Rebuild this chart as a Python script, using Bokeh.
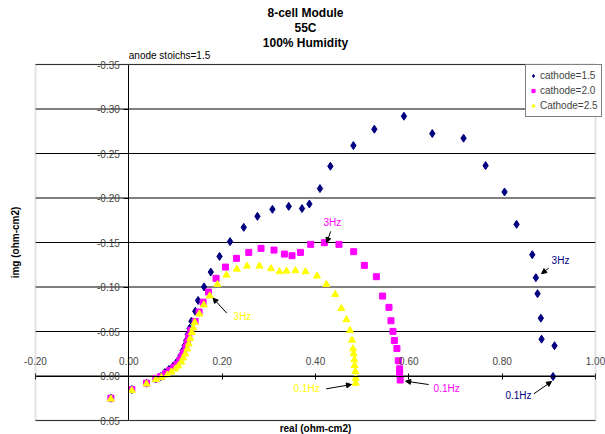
import math
from bokeh.plotting import figure
from bokeh.models import (Range1d, LinearAxis, FixedTicker, CustomJSTickFormatter, Label,
                          Arrow, NormalHead, Legend, LegendItem, BoxAnnotation)
from bokeh.embed import file_html
from bokeh.resources import INLINE

FONT = "Liberation Sans"

# ---- data (real, img) in ohm-cm2 ----
real_c15 = [-0.0385, 0.0064, 0.0379, 0.0578, 0.0685, 0.0771, 0.0857, 0.0942, 0.1006, 0.1070,
            0.1113, 0.1156, 0.1199, 0.1231, 0.1263, 0.1300, 0.1343, 0.1424, 0.1484, 0.1612,
            0.1756, 0.1944, 0.2169, 0.2463, 0.2756, 0.3077, 0.3426, 0.3711, 0.3869, 0.4096,
            0.4319, 0.4812, 0.5261, 0.5895, 0.6503, 0.7173, 0.7645, 0.8051, 0.8308, 0.8645,
            0.8722, 0.8758, 0.8829, 0.8844, 0.9122, 0.9090]
img_c15 = [0.0250, 0.0152, 0.0081, 0.0031, 0.0006, -0.0039, -0.0073, -0.0107, -0.0141, -0.0186,
           -0.0231, -0.0287, -0.0343, -0.0399, -0.0467, -0.0534, -0.0616, -0.0727, -0.0849, -0.1001,
           -0.1168, -0.1344, -0.1510, -0.1670, -0.1794, -0.1873, -0.1906, -0.1881, -0.1933, -0.2106,
           -0.2357, -0.2589, -0.2773, -0.2919, -0.2724, -0.2672, -0.2364, -0.2068, -0.1704, -0.1363,
           -0.1105, -0.0925, -0.0650, -0.0414, -0.0340, 0.0006]

real_c20 = [-0.0385, 0.0064, 0.0379, 0.0578, 0.0685, 0.0792, 0.0878, 0.0964, 0.1028, 0.1092,
            0.1135, 0.1178, 0.1221, 0.1253, 0.1285, 0.1328, 0.1420, 0.1505, 0.1591, 0.1707,
            0.1869, 0.2071, 0.2306, 0.2570, 0.2833, 0.3111, 0.3334, 0.3497, 0.3677, 0.3897,
            0.4190, 0.4503, 0.4818, 0.5047, 0.5304, 0.5439, 0.5574, 0.5617, 0.5660, 0.5690,
            0.5745, 0.5775, 0.5803, 0.5803, 0.5814]
img_c20 = [0.0250, 0.0152, 0.0081, 0.0031, 0.0006, -0.0028, -0.0062, -0.0096, -0.0129, -0.0174,
           -0.0219, -0.0264, -0.0321, -0.0377, -0.0444, -0.0512, -0.0613, -0.0718, -0.0830, -0.0943,
           -0.1097, -0.1224, -0.1322, -0.1389, -0.1434, -0.1415, -0.1370, -0.1352, -0.1389, -0.1479,
           -0.1498, -0.1479, -0.1397, -0.1243, -0.1116, -0.0898, -0.0771, -0.0621, -0.0501, -0.0399,
           -0.0309, -0.0171, -0.0081, -0.0028, 0.0045]

real_c25 = [-0.0385, 0.0064, 0.0379, 0.0578, 0.0696, 0.0824, 0.0910, 0.0996, 0.1060, 0.1124,
            0.1167, 0.1210, 0.1253, 0.1285, 0.1317, 0.1349, 0.1381, 0.1413, 0.1510, 0.1606,
            0.1734, 0.1899, 0.2092, 0.2313, 0.2533, 0.2799, 0.3047, 0.3227, 0.3377, 0.3570,
            0.3784, 0.4032, 0.4233, 0.4422, 0.4555, 0.4662, 0.4739, 0.4782, 0.4803, 0.4818,
            0.4833, 0.4839, 0.4854, 0.4861, 0.4861]
img_c25 = [0.0259, 0.0163, 0.0090, 0.0039, 0.0017, -0.0011, -0.0045, -0.0079, -0.0112, -0.0157,
           -0.0202, -0.0247, -0.0304, -0.0360, -0.0422, -0.0489, -0.0540, -0.0602, -0.0697, -0.0799,
           -0.0900, -0.1029, -0.1134, -0.1201, -0.1235, -0.1235, -0.1206, -0.1172, -0.1179, -0.1183,
           -0.1172, -0.1123, -0.1029, -0.0917, -0.0759, -0.0632, -0.0512, -0.0403, -0.0306, -0.0250,
           -0.0182, -0.0118, -0.0051, 0.0025, 0.0081]

series_names = ["cathode=1.5", "cathode=2.0", "Cathode=2.5"]
x_ticks = [-0.2, 0.0, 0.2, 0.4, 0.6, 0.8, 1.0]
y_ticks = [-0.35, -0.30, -0.25, -0.20, -0.15, -0.10, -0.05, 0.0, 0.05]

NAVY = "#000080"
MAG = "#FF00FF"
YEL = "#FFFF00"

W, H = 605, 434
# plot-area pixel box inside the canvas
PL, PR, PT, PB = 35, 595, 64, 420
XMIN, XMAX = x_ticks[0], x_ticks[-1]
YTOP, YBOT = y_ticks[0], y_ticks[-1]
kx = (XMAX - XMIN) / (PR - PL)
ky = (YBOT - YTOP) / (PB - PT)
x_range = Range1d(XMIN - PL * kx, XMAX + (W - PR) * kx)
y_range = Range1d(YBOT + (H - PB) * ky, YTOP - PT * ky)

p = figure(width=W, height=H, output_backend="svg", toolbar_location=None,
           x_range=x_range, y_range=y_range,
           x_axis_location=None, y_axis_location=None,
           min_border=0, min_border_left=0, min_border_right=0, min_border_top=0, min_border_bottom=0,
           background_fill_color="white", border_fill_color="white")
p.xgrid.visible = False
p.ygrid.visible = False
p.outline_line_color = None

# horizontal gridlines across the plot area
p.segment(x0=[XMIN] * len(y_ticks), x1=[XMAX] * len(y_ticks), y0=y_ticks, y1=y_ticks,
          line_color="black", line_width=1)
# plot-area border
p.add_layout(BoxAnnotation(left=XMIN, right=XMAX, top=YTOP, bottom=YBOT, fill_alpha=0,
                           line_color="#A0A0A0", line_width=2))

fmt = CustomJSTickFormatter(code="return tick.toFixed(2);")
yax = LinearAxis(fixed_location=0, ticker=FixedTicker(ticks=y_ticks), formatter=fmt,
                 bounds=(YTOP, YBOT),
                 major_tick_in=0, major_tick_out=5, minor_tick_line_color=None,
                 axis_line_color="black", major_tick_line_color="black",
                 major_label_text_font=FONT, major_label_text_font_size="10px",
                 major_label_standoff=4)
p.add_layout(yax, "left")
xax = LinearAxis(fixed_location=0, ticker=FixedTicker(ticks=x_ticks),
                 formatter=CustomJSTickFormatter(code="return tick.toFixed(2);"),
                 bounds=(XMIN, XMAX),
                 major_tick_in=3, major_tick_out=3, minor_tick_line_color=None,
                 axis_line_color="black", major_tick_line_color="black",
                 major_label_text_font=FONT, major_label_text_font_size="10px",
                 major_label_standoff=8)
p.add_layout(xax, "above")

r1 = p.scatter(real_c15, img_c15, marker="diamond", size=8, fill_color=NAVY, line_color=NAVY)
r2 = p.scatter(real_c20, img_c20, marker="square", size=6, fill_color=MAG, line_color=MAG)
r3 = p.scatter(real_c25, img_c25, marker="triangle", size=7, fill_color=YEL, line_color=YEL)

legend = Legend(items=[LegendItem(label=series_names[0], renderers=[r1]),
                       LegendItem(label=series_names[1], renderers=[r2]),
                       LegendItem(label=series_names[2], renderers=[r3])],
                location=(525, H - 117), border_line_color="black", border_line_width=1,
                background_fill_color="white", background_fill_alpha=1.0,
                label_text_font=FONT, label_text_font_size="10px",
                glyph_width=8, glyph_height=15, label_height=15, label_standoff=3,
                padding=3, spacing=0, margin=0)
p.add_layout(legend, "center")

# titles and axis titles (screen units, canvas = frame)
def slabel(text, sx, sy, size="12px", style="bold", angle=0.0):
    p.add_layout(Label(x=sx, y=H - sy, x_units="screen", y_units="screen", text=text,
                       text_align="center", text_baseline="middle", text_font=FONT,
                       text_font_size=size, text_font_style=style, angle=angle,
                       text_color="black"))

slabel("8-cell Module", 305, 12)
slabel("55C", 305, 27)
slabel("100% Humidity", 305, 42)
slabel("anode stoichs=1.5", 169, 55, size="10px", style="normal")
slabel("img (ohm-cm2)", 15, 242, size="10px", angle=math.pi / 2)
slabel("real (ohm-cm2)", 315, 428, size="10px")

# frequency annotations
notes = [("3Hz", 0.925, -0.130, NAVY), ("0.1Hz", 0.835, 0.022, NAVY),
         ("3Hz", 0.436, -0.173, MAG), ("0.1Hz", 0.681, 0.014, MAG),
         ("3Hz", 0.2435, -0.067, YEL), ("0.1Hz", 0.381, 0.014, YEL)]
for t, x, y, c in notes:
    p.add_layout(Label(x=x, y=y, text=t, text_align="center", text_baseline="middle",
                       text_font=FONT, text_font_size="10px", text_color=c))

arrows = [(0.900, -0.1213, 0.8844, -0.1150), (0.8679, 0.0200, 0.9058, 0.0062),
          (0.4325, -0.1625, 0.4240, -0.1498), (0.6424, 0.0096, 0.5931, 0.0058),
          (0.4231, 0.0144, 0.4771, 0.0096), (0.2099, -0.0706, 0.1805, -0.0875)]
for xs, ys, xe, ye in arrows:
    p.add_layout(Arrow(x_start=xs, y_start=ys, x_end=xe, y_end=ye, line_color="black",
                       line_width=1, end=NormalHead(size=5, fill_color="black", line_color="black")))

open("out.html", "w").write(file_html(p, INLINE))
